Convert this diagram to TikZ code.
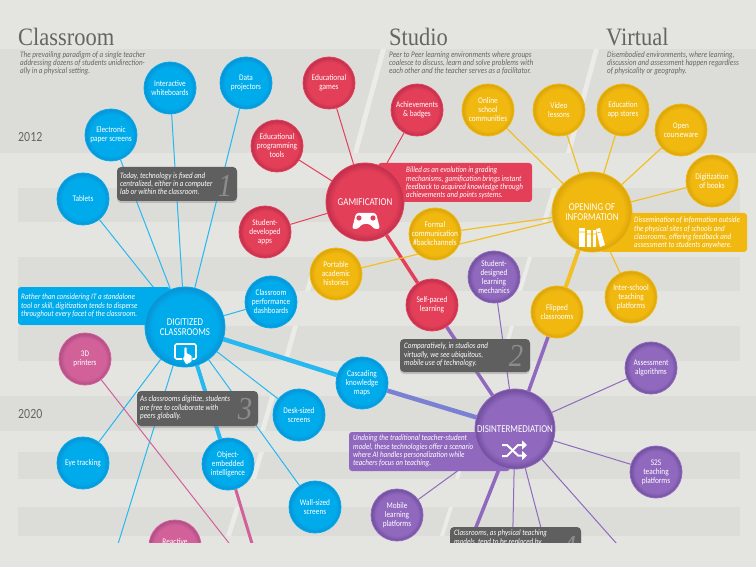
\documentclass[tikz,border=0pt]{standalone}
\usepackage{xcolor}
\usepackage{fontspec}
\usepackage{tikz}
\usetikzlibrary{backgrounds,shadows,arrows.meta}
\setsansfont[FakeStretch=0.85]{Carlito}
\newfontfamily\titlefont[FakeStretch=0.9]{Liberation Serif}
\renewcommand{\familydefault}{\sfdefault}

\definecolor{paper}{HTML}{E4E5E0}
\definecolor{band}{HTML}{DCDDD9}
\definecolor{streak}{HTML}{EBECE8}
\definecolor{inkgray}{HTML}{666661}
\definecolor{notegray}{HTML}{5F5F5F}
\definecolor{numgray}{HTML}{8C8C8C}
\definecolor{mixwire}{HTML}{7A80D2}
\definecolor{bluefill}{HTML}{00ABEC}
\definecolor{bluerim}{HTML}{0A94D6}
\definecolor{redfill}{HTML}{E43F58}
\definecolor{redrim}{HTML}{C2304E}
\definecolor{yellowfill}{HTML}{F1B80F}
\definecolor{yellowrim}{HTML}{DBA60C}
\definecolor{purplefill}{HTML}{9069BE}
\definecolor{purplerim}{HTML}{7350A0}
\definecolor{pinkfill}{HTML}{D2619A}
\definecolor{pinkrim}{HTML}{B24E86}
\pgfdeclareradialshading{rimblue}{\pgfpointorigin}{color(0bp)=(bluefill); color(20bp)=(bluefill); color(24.5bp)=(bluerim); color(50bp)=(bluerim)}
\pgfdeclareradialshading{rimred}{\pgfpointorigin}{color(0bp)=(redfill); color(20bp)=(redfill); color(24.5bp)=(redrim); color(50bp)=(redrim)}
\pgfdeclareradialshading{rimyellow}{\pgfpointorigin}{color(0bp)=(yellowfill); color(20bp)=(yellowfill); color(24.5bp)=(yellowrim); color(50bp)=(yellowrim)}
\pgfdeclareradialshading{rimpurple}{\pgfpointorigin}{color(0bp)=(purplefill); color(20bp)=(purplefill); color(24.5bp)=(purplerim); color(50bp)=(purplerim)}
\pgfdeclareradialshading{rimpink}{\pgfpointorigin}{color(0bp)=(pinkfill); color(20bp)=(pinkfill); color(24.5bp)=(pinkrim); color(50bp)=(pinkrim)}

\tikzset{
  dot/.style={circle, inner sep=0pt, minimum size=52pt, text=white, align=center, font=\fontsize{8.6}{9}\selectfont},
  bigdot/.style={dot, minimum size=80pt, font=\fontsize{10.5}{10}\selectfont},
  bluedot/.style={shading=rimblue, draw=bluefill, line width=.8pt},
  reddot/.style={shading=rimred, draw=redfill, line width=.8pt},
  yellowdot/.style={shading=rimyellow, draw=yellowfill, line width=.8pt},
  purpledot/.style={shading=rimpurple, draw=purplefill, line width=.8pt},
  pinkdot/.style={shading=rimpink, draw=pinkfill, line width=.8pt},
  notetext/.style={anchor=west, inner sep=0pt, text=white, align=left, font=\itshape\fontsize{8.3}{8.2}\selectfont},
  headtext/.style={anchor=north west, inner sep=0pt, text=inkgray, align=left, font=\itshape\fontsize{8.4}{8}\selectfont},
  titletext/.style={anchor=base west, inner sep=0pt, text=inkgray, font=\titlefont\fontsize{25}{25}\selectfont},
  yeartext/.style={anchor=west, inner sep=0pt, text=inkgray, font=\fontsize{14}{14}\selectfont},
  numtext/.style={inner sep=0pt, text=numgray, font=\titlefont\itshape\fontsize{32}{32}\selectfont},
  graynote/.style={fill=notegray, rounded corners=4pt, drop shadow={shadow xshift=0pt, shadow yshift=-2pt, opacity=.35}},
  bluewire/.style={draw=bluefill!85!white, line width=1pt},
  redwire/.style={draw=redfill, line width=1pt},
  yellowwire/.style={draw=yellowfill!90!white, line width=1.2pt},
  purplewire/.style={draw=purplefill, line width=1pt},
  pinkwire/.style={draw=pinkfill, line width=1pt}
}

\begin{document}
\begin{tikzpicture}[x=1pt, y=-1pt]
\useasboundingbox (0,0) rectangle (756,567);

% notes sit under the circles
\fill[graynote] (117,167) rectangle (237,201);
\fill[redfill, rounded corners=3pt] (378,163) rectangle (532,202);
\fill[bluefill, rounded corners=3pt] (18,287) rectangle (170,325);
\fill[yellowfill, rounded corners=3pt] (600,213) rectangle (747,252);
\fill[graynote] (400,339) rectangle (530,372);
\fill[graynote] (137,391) rectangle (258,426);
\fill[purplefill, rounded corners=3pt] (349,432) rectangle (510,471);
\fill[graynote] (450,527) rectangle (581,560);

\node[titletext] (classroomtitle) at (18,46) {Classroom};
\node[titletext] (studiotitle) at (389,46) {Studio};
\node[titletext] (virtualtitle) at (606,46) {Virtual};
\node[headtext] (classroomhead) at (20,51.5) {The prevailing paradigm of a single teacher\\addressing dozens of students unidirection-\\ally in a physical setting.};
\node[headtext] (studiohead) at (389,51.5) {Peer to Peer learning environments where groups\\coalesce to discuss, learn and solve problems with\\each other and the teacher serves as a facilitator.};
\node[headtext] (virtualhead) at (607,51.5) {Disembodied environments, where learning,\\discussion and assessment happen regardless\\of physicality or geography.};
\node[yeartext] (yeartwelve) at (18,137) {2012};
\node[yeartext] (yeartwenty) at (18,414) {2020};

\node[notetext] (noteone) at (120,183.5) {Today, technology is fixed and\\centralized, either in a computer\\lab or within the classroom.};
\node[numtext] (numone) at (225,186) {1};
\node[notetext] (notegame) at (406,183) {Billed as an evolution in grading\\mechanisms, gamification brings instant\\feedback to acquired knowledge through\\achievements and points systems.};
\node[notetext] (notedigital) at (21,306) {Rather than considering IT a standalone\\tool or skill, digitization tends to disperse\\throughout every facet of the classroom.};
\node[notetext] (noteopen) at (634,233) {Dissemination of information outside\\the physical sites of schools and\\classrooms, offering feedback and\\assessment to students anywhere.};
\node[notetext] (notetwo) at (404,355) {Comparatively, in studios and\\virtually, we see ubiquitous,\\mobile use of technology.};
\node[numtext] (numtwo) at (516,356) {2};
\node[notetext] (notethree) at (140,408) {As classrooms digitize, students\\are free to collaborate with\\peers globally.};
\node[numtext] (numthree) at (245,409) {3};
\node[notetext] (notedis) at (353,451) {Undoing the traditional teacher-student\\model, these technologies offer a scenario\\where AI handles personalization while\\teachers focus on teaching.};
\node[notetext, anchor=north west] (notefour) at (454,530) {Classrooms, as physical teaching\\models, tend to be replaced by};
\node[numtext] (numfour) at (569,547) {4};

% blue
\node[dot, bluedot] (whiteboards) at (170,88) {Interactive\\whiteboards};
\node[dot, bluedot] (projectors) at (246,83) {Data\\projectors};
\node[dot, bluedot] (paperscreens) at (111,135) {Electronic\\paper screens};
\node[dot, bluedot] (tablets) at (83,199) {Tablets};
\node[bigdot, bluedot] (digitized) at (185,327) {DIGITIZED\\CLASSROOMS};
\node[dot, bluedot] (dashboards) at (271,302) {Classroom\\performance\\dashboards};
\node[dot, bluedot] (deskscreens) at (299,415) {Desk-sized\\screens};
\node[dot, bluedot] (knowledgemaps) at (362,383) {Cascading\\knowledge\\maps};
\node[dot, bluedot] (eyetracking) at (83,463) {Eye tracking};
\node[dot, bluedot] (embedded) at (228,464) {Object-\\embedded\\intelligence};
\node[dot, bluedot] (wallscreens) at (315,507) {Wall-sized\\screens};
% pink
\node[dot, pinkdot] (printers) at (85,359) {3D\\printers};
\node[dot, pinkdot, text depth=9pt] (reactive) at (175,546) {Reactive};
% red
\node[dot, reddot] (edugames) at (329,83) {Educational\\games};
\node[dot, reddot] (programming) at (277,146) {Educational\\programming\\tools};
\node[dot, reddot] (studentapps) at (265,232) {Student-\\developed\\apps};
\node[bigdot, reddot, minimum size=78pt] (gamification) at (365,202) {GAMIFICATION};
\node[dot, reddot] (badges) at (417,110) {Achievements\\\&{} badges};
\node[dot, reddot] (selfpaced) at (432,305) {Self-paced\\learning};
% yellow
\node[dot, yellowdot] (communities) at (488,110) {Online\\school\\communities};
\node[dot, yellowdot] (videolessons) at (559,110) {Video\\lessons};
\node[dot, yellowdot] (appstores) at (623,110) {Education\\app stores};
\node[dot, yellowdot] (courseware) at (681,130) {Open\\courseware};
\node[dot, yellowdot] (digibooks) at (712,181) {Digitization\\of books};
\node[bigdot, yellowdot] (opening) at (592,212) {OPENING OF\\INFORMATION};
\node[dot, yellowdot] (backchannels) at (435,234) {Formal\\communication\\\#backchannels};
\node[dot, yellowdot] (histories) at (336,274) {Portable\\academic\\histories};
\node[dot, yellowdot] (interschool) at (631,297) {Inter-school\\teaching\\platforms};
\node[dot, yellowdot] (flipped) at (557,312) {Flipped\\classrooms};
% purple
\node[dot, purpledot] (mechanics) at (494,277) {Student-\\designed\\learning\\mechanics};
\node[bigdot, purpledot] (disinter) at (515,429) {DISINTERMEDIATION};
\node[dot, purpledot] (algorithms) at (651,368) {Assessment\\algorithms};
\node[dot, purpledot] (stwos) at (656,472) {S2S\\teaching\\platforms};
\node[dot, purpledot] (mobile) at (397,515) {Mobile\\learning\\platforms};

% free ends below the crop
\coordinate (bluedrop) at (110,570);
\coordinate (pinkdrop) at (250,570);
\coordinate (thickdrop) at (260,570);
\coordinate (fourleft) at (459,570);
\coordinate (fourmid) at (512,570);
\coordinate (fourright) at (552,570);
\coordinate (farright) at (640,570);

\begin{scope}[on background layer]
\fill[paper] (0,0) rectangle (756,567);
\fill[band] (0,49) rectangle (756,153);
\fill[band] (18,188) rectangle (740,222);
\fill[band] (18,257) rectangle (740,291);
\fill[band] (18,326) rectangle (740,361);
\fill[band] (0,396) rectangle (756,431);
\fill[band] (18,452) rectangle (740,479);
\fill[band] (18,507) rectangle (740,536);
\fill[streak] (381,49) -- (386,49) -- (358,153) -- (353,153) -- cycle;
\fill[streak] (594,49) -- (599,49) -- (571,153) -- (566,153) -- cycle;
\fill[streak] (552,188) -- (557,188) -- (547,222) -- (542,222) -- cycle;
\fill[streak] (315,257) -- (320,257) -- (310,291) -- (305,291) -- cycle;
\fill[streak] (528,257) -- (532,257) -- (522,291) -- (518,291) -- cycle;
\fill[streak] (293,326) -- (298,326) -- (288,361) -- (283,361) -- cycle;
\fill[streak] (510,326) -- (514,326) -- (504,361) -- (500,361) -- cycle;
\fill[streak] (270,396) -- (275,396) -- (265,431) -- (260,431) -- cycle;
\fill[streak] (259,452) -- (264,452) -- (256,479) -- (251,479) -- cycle;
\fill[streak] (463,452) -- (467,452) -- (459,479) -- (455,479) -- cycle;
\fill[streak] (235,507) -- (240,507) -- (231,536) -- (226,536) -- cycle;
\fill[streak] (449,507) -- (453,507) -- (444,536) -- (440,536) -- cycle;

\draw[bluewire] (digitized) -- (tablets);
\draw[bluewire] (digitized) -- (paperscreens);
\draw[bluewire] (digitized) -- (whiteboards);
\draw[bluewire] (digitized) -- (projectors);
\draw[bluewire] (digitized) -- (dashboards);
\draw[bluewire] (digitized) -- (eyetracking);
\draw[bluewire] (digitized) -- (bluedrop);
\draw[bluewire] (digitized) -- (deskscreens);
\draw[bluewire] (digitized) -- (wallscreens);
\draw[bluewire, line width=4pt] (digitized) -- (embedded);
\draw[bluewire, line width=4.5pt] (digitized) -- (knowledgemaps);
\draw[pinkwire] (printers) -- (pinkdrop);
\draw[pinkwire, line width=3pt] (embedded) -- (thickdrop);
\draw[redwire] (edugames) -- (gamification);
\draw[redwire] (programming) -- (gamification);
\draw[redwire] (studentapps) -- (gamification);
\draw[redwire] (badges) -- (gamification);
\draw[redwire, line width=3.5pt] (gamification) -- (selfpaced);
\draw[purplewire, line width=3.5pt] (selfpaced) -- (disinter);
\draw[yellowwire] (opening) -- (communities);
\draw[yellowwire] (opening) -- (videolessons);
\draw[yellowwire] (opening) -- (appstores);
\draw[yellowwire] (opening) -- (courseware);
\draw[yellowwire] (opening) -- (digibooks);
\draw[yellowwire] (opening) -- (backchannels);
\draw[yellowwire] (opening) -- (histories);
\draw[yellowwire] (opening) -- (interschool);
\draw[yellowwire, line width=4pt] (opening) -- (flipped);
\draw[purplewire] (mechanics) -- (disinter);
\draw[purplewire, line width=3.5pt] (flipped) -- (disinter);
\draw[purplewire] (algorithms) -- (disinter);
\draw[purplewire] (stwos) -- (disinter);
\draw[purplewire] (mobile) -- (disinter);
\draw[purplewire, draw=mixwire, line width=4.5pt] (knowledgemaps) -- (disinter);
\draw[purplewire, line width=3.5pt] (disinter) -- (fourleft);
\draw[purplewire] (disinter) -- (fourmid);
\draw[purplewire] (disinter) -- (fourright);
\draw[purplewire] (disinter) -- (farright);
\end{scope}

% gamepad
\fill[white, rounded corners=2.5pt] (356,213) -- (376,213) -- (380,229) -- (374,229) -- (370,224) -- (362,224) -- (358,229) -- (352,229) -- cycle;
\fill[redfill] (359,218) circle (2.6);
\fill[redfill] (373,218) circle (2.6);
% tablet and hand
\draw[white, line width=1.6pt, rounded corners=1.5pt] (175,344) rectangle (196,359);
\filldraw[fill=white, draw=bluefill, line width=.7pt, rounded corners=1pt] (184,347) -- (187,347) -- (187,353) -- (192,355) -- (192,362) -- (186,365) -- (182,358) -- (184,357) -- cycle;
% books
\fill[white] (579,228) rectangle (585,247);
\fill[white] (587,230) rectangle (591,247);
\fill[white] (592.5,230) rectangle (596,247);
\fill[white] (596,229) -- (600,228) -- (605,245) -- (600,247) -- cycle;
\draw[yellowfill, line width=.6pt] (579,232) -- (585,232) (587,234) -- (591,234) (592.5,234) -- (596,234) (597,233) -- (601,232);
% crossing arrows
\draw[white, line width=2pt, -{Triangle[length=5pt,width=9pt]}] (502,445) -- (507,445) -- (518,455.5) -- (527,455.5);
\draw[white, line width=2pt, -{Triangle[length=5pt,width=9pt]}] (502,456) -- (507,456) -- (518,445) -- (527,445);

\fill[paper] (0,543) rectangle (756,567);
\end{tikzpicture}
\end{document}
